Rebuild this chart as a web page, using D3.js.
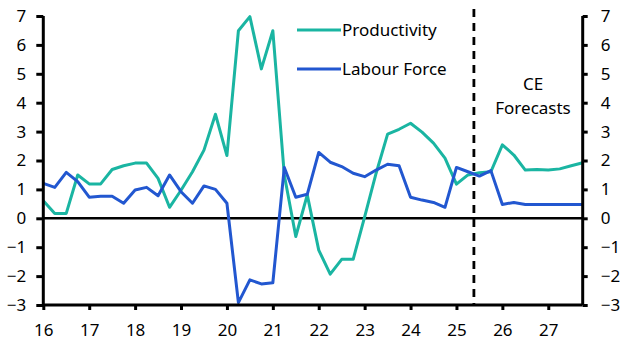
<!DOCTYPE html>
<html>
<head>
<meta charset="utf-8">
<script src="https://cdn.jsdelivr.net/npm/d3@7"></script>
<style>
  html, body { margin: 0; padding: 0; background: #fff; }
  svg { display: block; }
  text { font-family: "Noto Sans", "Open Sans", sans-serif; fill: #000; }
</style>
</head>
<body>
<svg id="chart" width="629" height="355"></svg>
<script>
// ---- Data (quarterly, % y/y) ----
const startYear = 2016;
const productivity = [0.61, 0.17, 0.17, 1.5, 1.19, 1.19, 1.69, 1.82, 1.91, 1.91, 1.38, 0.38,
  0.97, 1.61, 2.36, 3.6, 2.17, 6.49, 6.98, 5.17, 6.49, 1.5, -0.63, 0.81,
  -1.1, -1.93, -1.42, -1.42, 0.05, 1.56, 2.91, 3.08, 3.29, 2.98, 2.6, 2.08,
  1.18, 1.5, 1.58, 1.61, 2.54, 2.19, 1.67, 1.69, 1.67, 1.71, 1.82, 1.92];
const labourForce = [1.21, 1.07, 1.59, 1.27, 0.73, 0.76, 0.76, 0.52, 0.98, 1.07, 0.78, 1.5,
  0.92, 0.52, 1.12, 1.0, 0.52, -2.92, -2.13, -2.27, -2.23, 1.76, 0.73, 0.83,
  2.28, 1.94, 1.79, 1.56, 1.44, 1.67, 1.87, 1.82, 0.73, 0.63, 0.55, 0.38,
  1.76, 1.61, 1.46, 1.65, 0.48, 0.55, 0.48, 0.48, 0.48, 0.48, 0.48, 0.48];
const xTickYears = [2016, 2017, 2018, 2019, 2020, 2021, 2022, 2023, 2024, 2025, 2026, 2027];
const xTickLabels = ["16", "17", "18", "19", "20", "21", "22", "23", "24", "25", "26", "27"];
const yTicks = [-3, -2, -1, 0, 1, 2, 3, 4, 5, 6, 7];
const forecastStart = 2025.38;
const seriesNames = ["Productivity", "Labour Force"];
const seriesColors = ["#1ab5a2", "#2257d0"];
const forecastLabel = ["CE", "Forecasts"];

// ---- Layout ----
const svg = d3.select("#chart");
const mLeft = 43.3, mRight = 582.7, mTop = 16, mBottom = 305;

const x = d3.scaleLinear().domain([startYear, startYear + (productivity.length - 1) * 0.25]).range([mLeft, mRight]);
const y = d3.scaleLinear().domain([-3, 7]).range([mBottom, mTop]);

const quarters = productivity.map((_, i) => startYear + i * 0.25);

// Zero line
svg.append("line")
  .attr("x1", mLeft).attr("x2", mRight)
  .attr("y1", y(0)).attr("y2", y(0))
  .attr("stroke", "#000").attr("stroke-width", 2.6);

// Forecast dashed line
svg.append("line")
  .attr("x1", x(forecastStart)).attr("x2", x(forecastStart))
  .attr("y1", 9).attr("y2", mBottom)
  .attr("stroke", "#000").attr("stroke-width", 2.8)
  .attr("stroke-dasharray", "8,6");

// Series lines
const line = d3.line().x((d, i) => x(quarters[i])).y(d => y(d));
[productivity, labourForce].forEach((s, k) => {
  svg.append("path")
    .datum(s)
    .attr("d", line)
    .attr("fill", "none")
    .attr("stroke", seriesColors[k])
    .attr("stroke-width", 3)
    .attr("stroke-linejoin", "round");
});

// Axes
const fontSize = "17px";
const leftAxis = d3.axisLeft(y).tickValues(yTicks).tickSize(7).tickPadding(10).tickFormat(d3.format("d"));
const gL = svg.append("g").attr("transform", `translate(${mLeft},0)`).call(leftAxis);
const rightAxis = d3.axisRight(y).tickValues(yTicks).tickSize(5).tickPadding(13).tickFormat(d3.format("d"));
const gR = svg.append("g").attr("transform", `translate(${mRight},0)`).call(rightAxis);
const bottomAxis = d3.axisBottom(x).tickValues(xTickYears).tickSize(5).tickPadding(14)
  .tickFormat((d, i) => xTickLabels[i]);
const gB = svg.append("g").attr("transform", `translate(0,${mBottom})`).call(bottomAxis);

[gL, gR, gB].forEach(g => {
  g.select(".domain").attr("stroke", "#000").attr("stroke-width", 3);
  g.selectAll(".tick line").attr("stroke", "#000").attr("stroke-width", 3);
  g.selectAll(".tick text").attr("font-size", fontSize).attr("fill", "#000")
    .attr("font-family", "'Noto Sans', sans-serif");
});
gL.select(".domain").attr("d", `M0,${mTop}V${mBottom}`);
gR.select(".domain").attr("d", `M0,${mTop}V${mBottom}`);
gB.select(".domain").attr("d", `M${mLeft},0H${mRight}`);

// Legend
const legY = [30, 69];
seriesNames.forEach((name, k) => {
  svg.append("line")
    .attr("x1", 297).attr("x2", 341)
    .attr("y1", legY[k]).attr("y2", legY[k])
    .attr("stroke", seriesColors[k]).attr("stroke-width", 3);
  svg.append("text")
    .attr("x", 342).attr("y", legY[k])
    .attr("dy", "0.36em")
    .attr("font-size", "17px")
    .text(name);
});

// Forecast annotation
svg.append("text").attr("x", 533).attr("y", 90).attr("text-anchor", "middle")
  .attr("font-size", "17px").text(forecastLabel[0]);
svg.append("text").attr("x", 533).attr("y", 114).attr("text-anchor", "middle")
  .attr("font-size", "17px").text(forecastLabel[1]);
</script>
</body>
</html>
